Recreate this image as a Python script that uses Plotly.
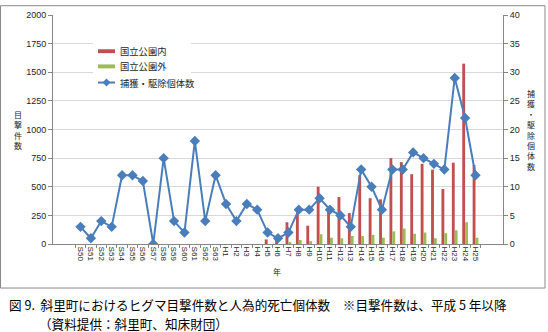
import plotly.graph_objects as go

categories = ["S50", "S51", "S52", "S53", "S54", "S55", "S56", "S57", "S58", "S59",
              "S60", "S61", "S62", "S63", "H1", "H2", "H3", "H4", "H5", "H6",
              "H7", "H8", "H9", "H10", "H11", "H12", "H13", "H14", "H15", "H16",
              "H17", "H18", "H19", "H20", "H21", "H22", "H23", "H24", "H25"]

# 目撃件数 (left axis), recorded from H5 onward
inside_park = [None] * 18 + [40, 50, 190, 320, 160, 500, 320, 410, 270, 600, 400,
                             390, 750, 715, 610, 700, 650, 480, 710, 1575, 690]
outside_park = [None] * 18 + [0, 0, 10, 35, 25, 85, 55, 50, 70, 70, 80,
                              55, 110, 135, 90, 100, 50, 95, 120, 190, 55]
# 捕獲・駆除個体数 (right axis)
captured = [3, 1, 4, 3, 12, 12, 11, 0, 15, 4, 2, 18, 4, 12,
            7, 4, 7, 6, 2, 1, 2, 6, 6, 8, 6, 5, 3, 13, 10, 6,
            13, 13, 16, 15, 14, 13, 29, 22, 12]

series_names = ["国立公園内", "国立公園外", "捕獲・駆除個体数"]
RED, GREEN, BLUE = "#C0504D", "#9BBB59", "#4A7EBB"

W, H = 548, 332
L, T, PW, PH = 53, 10, 450, 234


def px(x):
    return (x - L) / PW


def py(y):
    return (T + PH - y) / PH


NUM_FONT = "Liberation Sans, Noto Sans CJK JP, sans-serif"
JP_FONT = "Noto Sans CJK JP, sans-serif"
AX = "#868686"
TXT = "#262626"

fig = go.Figure()
fig.add_trace(go.Bar(x=categories, y=inside_park, name=series_names[0],
                     marker=dict(color=RED, line=dict(width=0))))
fig.add_trace(go.Bar(x=categories, y=outside_park, name=series_names[1],
                     marker=dict(color=GREEN, line=dict(width=0))))
fig.add_trace(go.Scatter(x=categories, y=captured, name=series_names[2], yaxis="y2",
                         mode="lines+markers",
                         line=dict(color=BLUE, width=2),
                         marker=dict(symbol="diamond", size=8, color=BLUE)))

fig.update_layout(
    width=W, height=H,
    margin=dict(l=L, r=W - L - PW, t=T, b=H - T - PH, pad=0),
    paper_bgcolor="white", plot_bgcolor="white",
    barmode="group", bargap=0.45, bargroupgap=0,
    font=dict(family=NUM_FONT, size=9, color=TXT),
    showlegend=False,
    xaxis=dict(type="category", showgrid=False, showline=True, linecolor=AX,
               ticks="outside", tickson="boundaries", ticklen=3, tickcolor=AX,
               tickangle=90, tickfont=dict(size=8, family=NUM_FONT)),
    yaxis=dict(range=[0, 2000], dtick=250, showgrid=True, gridcolor="#D9D9D9",
               showline=True, linecolor=AX, ticks="outside", ticklen=4, tickcolor=AX,
               zeroline=False, tickfont=dict(size=9)),
    yaxis2=dict(range=[0, 40], dtick=5, overlaying="y", side="right", showgrid=False,
                showline=True, linecolor=AX, ticks="outside", ticklen=4, tickcolor=AX,
                zeroline=False, tickfont=dict(size=9)),
)

# outer chart frame
fig.add_shape(type="rect", xref="paper", yref="paper",
              x0=px(0.5), x1=px(545), y0=py(289), y1=py(0.5),
              line=dict(color="#898989", width=1), fillcolor="rgba(0,0,0,0)", layer="above")

# custom legend (wide swatches like the original)
fig.add_shape(type="rect", xref="paper", yref="paper",
              x0=px(93), x1=px(191), y0=py(90), y1=py(36),
              line=dict(width=0), fillcolor="white", layer="above")
fig.add_shape(type="rect", xref="paper", yref="paper",
              x0=px(98), x1=px(115), y0=py(49), y1=py(45),
              line=dict(width=0), fillcolor=RED, layer="above")
fig.add_shape(type="rect", xref="paper", yref="paper",
              x0=px(98), x1=px(115), y0=py(64.5), y1=py(60.5),
              line=dict(width=0), fillcolor=GREEN, layer="above")
fig.add_shape(type="line", xref="paper", yref="paper",
              x0=px(98), x1=px(115), y0=py(79), y1=py(79),
              line=dict(width=2, color=BLUE), layer="above")
fig.add_shape(type="path", xref="paper", yref="paper",
              xsizemode="pixel", ysizemode="pixel", xanchor=px(106.5), yanchor=py(79),
              path="M 0 4 L 4 0 L 0 -4 L -4 0 Z",
              line=dict(width=0), fillcolor=BLUE, layer="above")
for name, yc in zip(series_names, [47, 62.5, 79]):
    fig.add_annotation(text=name, x=px(118), y=py(yc), xref="paper", yref="paper",
                       showarrow=False, xanchor="left", yanchor="middle",
                       font=dict(family=JP_FONT, size=9.3, color=TXT))

ann = [
    dict(text="目<br>撃<br>件<br>数", x=px(18), y=py(127), size=8),
    dict(text="捕<br>獲<br>・<br>駆<br>除<br>個<br>体<br>数", x=px(531), y=py(127), size=8),
    dict(text="年", x=px(277), y=py(272), size=8),
]
for a in ann:
    fig.add_annotation(text=a["text"], x=a["x"], y=a["y"], xref="paper", yref="paper",
                       showarrow=False, xanchor="center", yanchor="middle",
                       font=dict(family=JP_FONT, size=a["size"], color=TXT))

fig.add_annotation(text="図 9.  斜里町におけるヒグマ目撃件数と人為的死亡個体数　※目撃件数は、平成 5 年以降",
                   x=px(7), y=py(306), xref="paper", yref="paper", showarrow=False,
                   xanchor="left", yanchor="middle",
                   font=dict(family=JP_FONT, size=12.6, color="#000000"))
fig.add_annotation(text="（資料提供：斜里町、知床財団）",
                   x=px(37), y=py(325), xref="paper", yref="paper", showarrow=False,
                   xanchor="left", yanchor="middle",
                   font=dict(family=JP_FONT, size=12.6, color="#000000"))

fig.write_html("out.html")
